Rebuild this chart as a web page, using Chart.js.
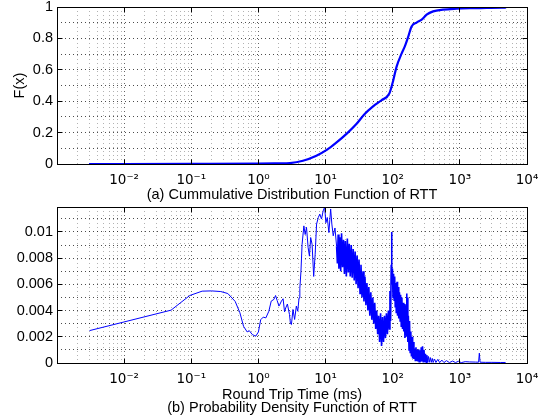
<!DOCTYPE html>
<html>
<head>
<meta charset="utf-8">
<script src="https://cdn.jsdelivr.net/npm/chart.js@4.4.1/dist/chart.umd.min.js"></script>
<style>
  html, body { margin: 0; padding: 0; background: #fff; }
  #wrap { position: relative; width: 542px; height: 419px; }
  canvas { position: absolute; left: 0; }
  #cdfChart { top: 0; }
  #pdfChart { top: 200px; }
</style>
</head>
<body>
<div id="wrap">
  <canvas id="cdfChart" width="542" height="202"></canvas>
  <canvas id="pdfChart" width="542" height="219"></canvas>
</div>
<script>
// RTT in ms (log axis)
const cdfRtt = [0.003, 0.01, 0.1, 1, 2, 2.94, 4.6, 7.3, 10.4, 14.6, 20.5, 29, 38.5, 51, 68, 89, 102, 114,
  136, 151, 170, 191, 227, 270, 320, 400, 560, 890, 1400, 2500, 4200, 4900];
const cdfVals = [0, 0, 0.0005, 0.002, 0.004, 0.006, 0.021, 0.053, 0.09, 0.138, 0.192, 0.256, 0.32, 0.367, 0.406, 0.449, 0.534, 0.619,
  0.705, 0.748, 0.81, 0.876, 0.901, 0.919, 0.951, 0.972, 0.983, 0.989, 0.992, 0.994, 0.996, 0.997];

const pdfRtt = [0.00305, 0.05, 0.095, 0.145, 0.2, 0.275, 0.35, 0.45, 0.53, 0.6, 0.68, 0.73, 0.81, 0.91, 1.0, 1.08,
  1.18, 1.29, 1.43, 1.55, 1.7, 1.8, 1.9, 2.02, 2.1, 2.2, 2.33, 2.45, 2.55, 2.7, 2.9, 3.0, 3.1, 3.27, 3.46, 3.67,
  3.85, 4.03, 4.14, 4.3, 4.47, 4.75, 4.97, 5.2, 5.5, 5.75, 6.0, 6.3, 6.65, 7.0, 7.35, 7.8, 8.2, 8.7, 9.2, 9.7,
  10.1, 10.6, 11.2, 11.9, 12.4, 13.0, 13.8, 14.6,
  15.0, 15.4, 15.8, 16.3, 16.8, 17.3, 17.9, 18.5, 19.1, 19.7, 20.4, 21.1, 21.8, 22.5, 23.3, 24.1, 24.9, 25.8,
  26.7, 27.6, 28.5, 29.5, 30.5, 31.5, 32.6, 33.7, 34.9, 36.1, 37.3, 38.6, 39.9, 41.3, 42.7, 44.1, 45.6, 47.2,
  48.8, 50.5, 52.2, 54.0, 55.8, 57.7, 59.7, 61.7, 63.8, 66.0, 68.2, 70.5, 72.9, 75.4, 78.0, 80.6, 83.4, 86.2,
  89.1, 91.0, 93.0, 95.0, 96.0, 97.5, 99.0, 101, 103, 105, 107, 109, 111, 113, 116, 118, 121, 123, 126, 129,
  131, 134, 137, 140, 143, 146, 149, 152, 155, 158, 161, 163, 165, 168, 171, 175, 178, 182, 186, 190, 194, 198,
  203, 207, 212, 217, 222, 227, 232, 237, 243, 248, 254, 260, 266, 272, 278, 285, 292, 300, 307, 315, 322, 330,
  340, 350, 362, 375, 388, 400, 420, 440, 470, 500, 540, 580, 630, 700, 780, 860, 950, 1050, 1200, 1400, 1700,
  1900, 1950, 2000, 2400, 3000, 4000, 4800];
// density in units of 1e-3
const pdfValsE3 = [2.47, 4.03, 5.15, 5.48, 5.5, 5.45, 5.3, 4.7, 3.83, 2.8, 2.37, 2.47, 2.17, 2.04, 2.37, 3.3,
  3.5, 3.44, 3.95, 4.72, 4.85, 5.15, 4.77, 4.34, 4.5, 4.72, 4.9, 3.9, 4.2, 4.5, 3.7, 3.0, 2.93, 4.08, 3.32, 4.34,
  3.95, 4.97, 5.7, 7.0, 9.05, 10.46, 9.8, 10.35, 8.8, 8.15, 9.57, 9.05, 6.6, 8.3, 10.6, 11.1, 11.36, 10.98, 11.6, 11.9,
  10.7, 11.1, 9.95, 11.75, 10.6, 9.7, 10.3, 8.9,
  7.6, 9.8, 7.2, 9.6, 7.0, 9.9, 7.3, 9.4, 6.8, 9.3, 6.6, 9.5, 6.9, 9.1, 6.6, 9.0, 6.5, 8.7,
  6.3, 8.5, 6.0, 8.2, 5.7, 7.9, 5.3, 7.5, 5.0, 7.0, 4.7, 6.6, 4.4, 6.1, 4.0, 5.8, 3.6, 5.4,
  3.3, 5.0, 3.0, 4.6, 2.6, 4.0, 2.2, 3.6, 1.6, 3.8, 1.3, 3.5, 1.6, 3.6, 1.9, 3.8, 2.2, 4.0,
  2.6, 5.5, 3.2, 7.5, 10.0, 6.0, 7.2, 5.0, 6.8, 4.8, 6.6, 4.3, 6.1, 3.8, 6.2, 3.6, 5.8, 3.4, 5.4, 3.2,
  5.2, 2.8, 5.0, 2.6, 4.6, 2.4, 4.5, 1.9, 4.4, 2.5, 5.3, 2.0, 5.0, 1.6, 3.6, 1.0, 3.2, 0.8, 2.4, 0.5, 2.0, 0.35,
  1.6, 0.3, 1.1, 0.2, 1.2, 0.15, 1.0, 0.12, 1.05, 0.1, 0.98, 0.1, 1.2, 0.12, 1.28, 0.1, 1.0, 0.08, 0.7, 0.07, 0.6, 0.06,
  0.5, 0.05, 0.42, 0.05, 0.35, 0.04, 0.3, 0.04, 0.28, 0.03, 0.22, 0.03, 0.18, 0.03, 0.15, 0.03, 0.13, 0.03, 0.1, 0.08, 0.07,
  0.06, 0.75, 0.06, 0.05, 0.05, 0.04, 0.04];

// axis ticks
const decadeTicks = [0.001, 0.01, 0.1, 1, 10, 100, 1000, 10000];
const decadeLabels = ['', '10⁻²', '10⁻¹', '10⁰', '10¹', '10²', '10³', '10⁴'];
const minorSteps = [2, 3, 4, 5, 6, 7, 8, 9];
const cdfTicks = [0, 0.2, 0.4, 0.6, 0.8, 1];
const cdfTickLabels = ['0', '0.2', '0.4', '0.6', '0.8', '1'];
const cdfMinor = [0.1, 0.3, 0.5, 0.7, 0.9];
const pdfTicks = [0, 0.002, 0.004, 0.006, 0.008, 0.01];
const pdfTickLabels = ['0', '0.002', '0.004', '0.006', '0.008', '0.01'];
const pdfMinor = [0.001, 0.003, 0.005, 0.007, 0.009, 0.011];

const FONT = { family: "'Liberation Sans', 'DejaVu Sans', Arial, sans-serif", size: 14.5 };
const POW_FONT = { family: "'DejaVu Sans', sans-serif", size: 13.5 };
const BLUE = 'rgb(0, 0, 255)';

function xAxis(axisHeight, title, titlePadBottom) {
  return {
    type: 'logarithmic',
    min: 0.001,
    max: 10000,
    afterBuildTicks: function (scale) {
      const ticks = [];
      decadeTicks.forEach(function (d, i) {
        ticks.push({ value: d, major: true });
        if (i < decadeTicks.length - 1) {
          minorSteps.forEach(function (m) { ticks.push({ value: d * m, major: false }); });
        }
      });
      scale.ticks = ticks;
    },
    afterFit: function (scale) {
      scale.height = axisHeight;
      scale.paddingLeft = 0;
      scale.paddingRight = 0;
    },
    ticks: {
      autoSkip: false,
      maxRotation: 0,
      padding: 8,
      color: '#000',
      font: POW_FONT,
      callback: function (v) {
        const k = decadeTicks.indexOf(v);
        return k >= 0 ? decadeLabels[k] : '';
      }
    },
    grid: {
      drawTicks: false,
      lineWidth: 1,
      color: function (c) { return c.tick && c.tick.major ? 'rgba(0,0,0,0.6)' : 'rgba(0,0,0,0.3)'; }
    },
    border: { display: false, dash: [1, 3] },
    title: {
      display: true,
      text: title,
      color: '#000',
      font: Object.assign({}, FONT, { lineHeight: 0.9 }),
      padding: { top: 0, bottom: titlePadBottom }
    }
  };
}

function yAxis(max, vals, labels, minor, titleText) {
  return {
    type: 'linear',
    min: 0,
    max: max,
    afterBuildTicks: function (scale) {
      const ticks = vals.map(function (v) { return { value: v, major: true }; })
        .concat(minor.map(function (v) { return { value: v, major: false }; }));
      ticks.sort(function (a, b) { return a.value - b.value; });
      scale.ticks = ticks;
    },
    afterFit: function (scale) {
      scale.width = 57;
      scale.paddingTop = 0;
      scale.paddingBottom = 0;
    },
    ticks: {
      autoSkip: false,
      padding: 4,
      color: '#000',
      font: FONT,
      callback: function (v) {
        const k = vals.indexOf(v);
        return k >= 0 ? labels[k] : '';
      }
    },
    grid: { drawTicks: false, lineWidth: 1, color: 'rgba(0,0,0,0.7)' },
    border: { display: false, dash: [1, 3] },
    title: {
      display: !!titleText,
      text: titleText || '',
      color: '#000',
      font: FONT,
      padding: { top: 11, bottom: 0 }
    }
  };
}

// black box + inward tick marks, matlab style
const framePlugin = {
  id: 'frame',
  afterDatasetsDraw: function (chart, args, opts) {
    const ctx = chart.ctx;
    const a = chart.chartArea;
    const al = function (p) { return Math.round(p - 0.5) + 0.5; };
    const l = al(a.left), r = al(a.right), t = al(a.top), b = al(a.bottom);
    ctx.save();
    ctx.strokeStyle = '#000';
    ctx.lineWidth = 1;
    ctx.setLineDash([]);
    ctx.beginPath();
    decadeTicks.forEach(function (d) {
      const x = al(chart.scales.x.getPixelForValue(d));
      ctx.moveTo(x, b); ctx.lineTo(x, b - 5);
      ctx.moveTo(x, t); ctx.lineTo(x, t + 5);
    });
    opts.yTicks.forEach(function (v) {
      const y = al(chart.scales.y.getPixelForValue(v));
      ctx.moveTo(l, y); ctx.lineTo(l + 5, y);
      ctx.moveTo(r, y); ctx.lineTo(r - 5, y);
    });
    ctx.stroke();
    ctx.strokeRect(l, t, r - l, b - t);
    ctx.restore();
  }
};

new Chart(document.getElementById('cdfChart').getContext('2d'), {
  type: 'line',
  data: {
    datasets: [{
      data: cdfRtt.map(function (x, i) { return { x: x, y: cdfVals[i] }; }),
      borderColor: BLUE,
      borderWidth: 2.2,
      pointRadius: 0,
      cubicInterpolationMode: 'monotone'
    }]
  },
  options: {
    responsive: false,
    animation: false,
    layout: { padding: { left: 0, right: 15, top: 7, bottom: 0 } },
    plugins: { legend: { display: false }, tooltip: { enabled: false }, frame: { yTicks: cdfTicks } },
    scales: {
      x: xAxis(38, '(a) Cummulative Distribution Function of RTT', 0),
      y: yAxis(1, cdfTicks, cdfTickLabels, cdfMinor, 'F(x)')
    }
  },
  plugins: [framePlugin]
});

new Chart(document.getElementById('pdfChart').getContext('2d'), {
  type: 'line',
  data: {
    datasets: [{
      data: pdfRtt.map(function (x, i) { return { x: x, y: pdfValsE3[i] / 1000 }; }),
      borderColor: BLUE,
      borderWidth: 1,
      pointRadius: 0,
      tension: 0,
      segment: {
        // the noisy part of the trace renders as a dense band
        borderWidth: function (c) { return c.p0.parsed.x >= 14.6 && c.p1.parsed.x <= 330 ? 1.6 : 1; }
      }
    }]
  },
  options: {
    responsive: false,
    animation: false,
    layout: { padding: { left: 0, right: 15, top: 7, bottom: 0 } },
    plugins: { legend: { display: false }, tooltip: { enabled: false }, frame: { yTicks: pdfTicks } },
    scales: {
      x: xAxis(56, ['Round Trip Time (ms)', '(b) Probability Density Function of RTT'], 4.5),
      y: yAxis(0.0119, pdfTicks, pdfTickLabels, pdfMinor, '')
    }
  },
  plugins: [framePlugin]
});
</script>
</body>
</html>
